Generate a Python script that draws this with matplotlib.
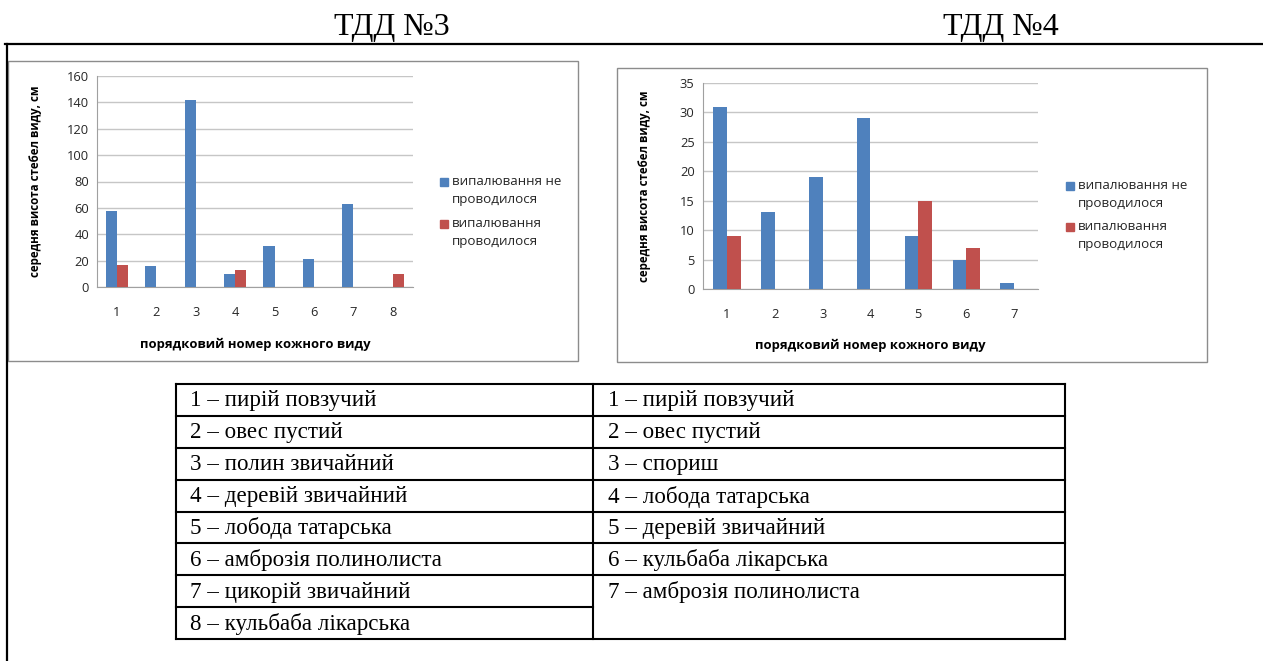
# Recreation of two bar charts (ТДД №3, ТДД №4) with species key table

import numpy as np
import matplotlib.pyplot as plt
from matplotlib.patches import Rectangle
from matplotlib.lines import Line2D

# data
series_names = ['випалювання не\nпроводилося', 'випалювання\nпроводилося']

tdd3_blue = [58, 16, 142, 10, 31, 21, 63, 0]
tdd3_red = [17, 0, 0, 13, 0, 0, 0, 10]
tdd3_ticks = [0, 20, 40, 60, 80, 100, 120, 140, 160]

tdd4_blue = [31, 13, 19, 29, 9, 5, 1]
tdd4_red = [9, 0, 0, 0, 15, 7, 0]
tdd4_ticks = [0, 5, 10, 15, 20, 25, 30, 35]

species3 = ['1 – пирій повзучий', '2 – овес пустий', '3 – полин звичайний',
            '4 – деревій звичайний', '5 – лобода татарська',
            '6 – амброзія полинолиста', '7 – цикорій звичайний',
            '8 – кульбаба лікарська']
species4 = ['1 – пирій повзучий', '2 – овес пустий', '3 – спориш',
            '4 – лобода татарська', '5 – деревій звичайний',
            '6 – кульбаба лікарська', '7 – амброзія полинолиста']

titles = ['ТДД №3', 'ТДД №4']
ylabel = 'середня висота стебел виду, см'
xlabel = 'порядковий номер кожного виду'

colors = ['#4F81BD', '#C0504D']
sans = ['Open Sans', 'DejaVu Sans']
serif = ['Liberation Serif', 'DejaVu Serif']

W, H = 1263, 661


def fx(x):
    return x / W


def fy(y):
    return 1 - y / H


def axes_px(fig, x0, y0, x1, y1):
    # pixel box (top-left origin) -> figure axes
    return fig.add_axes([fx(x0), fy(y1), (x1 - x0) / W, (y1 - y0) / H])


fig = plt.figure(figsize=(W / 100, H / 100), dpi=100)

# outer frame lines
fig.add_artist(Line2D([fx(5), fx(1263)], [fy(43.5), fy(43.5)], color='black', lw=1.6))
fig.add_artist(Line2D([fx(6.5), fx(6.5)], [fy(43.5), fy(661)], color='black', lw=1.6))

# titles
fig.text(fx(392), fy(35), titles[0], family=serif, fontsize=23, ha='center', va='baseline')
fig.text(fx(1001), fy(35), titles[1], family=serif, fontsize=23, ha='center', va='baseline')

# chart panel frames
fig.add_artist(Rectangle((fx(8), fy(361)), (578 - 8) / W, (361 - 61) / H,
                         fill=False, edgecolor='#8c8c8c', lw=1))
fig.add_artist(Rectangle((fx(617), fy(362)), (1207 - 617) / W, (362 - 68) / H,
                         fill=False, edgecolor='#8c8c8c', lw=1))


def draw_chart(ax, blue, red, ticks, ylab_x, xlab_y):
    n = len(blue)
    x = np.arange(1, n + 1)
    w = 1 / 3.5
    ax.bar(x - w / 2, blue, width=w, color=colors[0], zorder=3)
    ax.bar(x + w / 2, red, width=w, color=colors[1], zorder=3)
    ax.set_xlim(0.5, n + 0.5)
    ax.set_ylim(ticks[0], ticks[-1])
    ax.set_yticks(ticks)
    ax.set_xticks(x)
    ax.set_xticklabels([str(i) for i in x])
    ax.grid(axis='y', color='#c6c6c6', lw=1, zorder=0)
    for s in ['top', 'right']:
        ax.spines[s].set_visible(False)
    for s in ['left', 'bottom']:
        ax.spines[s].set_color('#a0a0a0')
    ax.tick_params(length=0, labelsize=9.3, colors='#262626')
    ax.tick_params(axis='x', pad=14)
    ax.tick_params(axis='y', pad=6)
    for lab in ax.get_xticklabels() + ax.get_yticklabels():
        lab.set_family(sans)
    ax.set_ylabel(ylabel, family=sans, fontsize=8.3, fontweight='bold')
    ax.yaxis.set_label_coords(ylab_x, 0.5)
    ax.set_xlabel(xlabel, family=sans, fontsize=9.4, fontweight='bold')
    ax.xaxis.set_label_coords(0.5, xlab_y)


ax1 = axes_px(fig, 97.3, 76, 412.5, 287)
draw_chart(ax1, tdd3_blue, tdd3_red, tdd3_ticks, -0.175, -0.24)
ax2 = axes_px(fig, 703, 83, 1038, 289)
draw_chart(ax2, tdd4_blue, tdd4_red, tdd4_ticks, -0.155, -0.24)


# legends drawn by hand beside each chart
def draw_legend(x, ys):
    for name, c, y in zip(series_names, colors, ys):
        fig.add_artist(Rectangle((fx(x), fy(y + 4)), 8 / W, 8 / H, color=c))
        fig.text(fx(x + 12), fy(y - 7), name, family=sans, fontsize=9.6,
                 ha='left', va='top', linespacing=1.5, color='#262626')


draw_legend(440, [182, 224])
draw_legend(1066, [186, 227])

# species key table
tl, tm, tr = 176, 593, 1065
top, bot = 384, 639
rh = (bot - top) / len(species3)
lw_t = 1.5
for yy in [top, bot]:
    fig.add_artist(Line2D([fx(tl), fx(tr)], [fy(yy), fy(yy)], color='black', lw=lw_t))
for xx in [tl, tm, tr]:
    fig.add_artist(Line2D([fx(xx), fx(xx)], [fy(top), fy(bot)], color='black', lw=lw_t))
for i in range(1, len(species3)):
    yy = top + i * rh
    right_end = tr if i < len(species4) else tm
    fig.add_artist(Line2D([fx(tl), fx(right_end)], [fy(yy), fy(yy)], color='black', lw=lw_t))

for i, name in enumerate(species3):
    fig.text(fx(190), fy(top + (i + 0.5) * rh + 1), name, family=serif,
             fontsize=16.6, ha='left', va='center')
for i, name in enumerate(species4):
    fig.text(fx(608), fy(top + (i + 0.5) * rh + 1), name, family=serif,
             fontsize=16.6, ha='left', va='center')

fig.savefig('out.png', dpi=100)
